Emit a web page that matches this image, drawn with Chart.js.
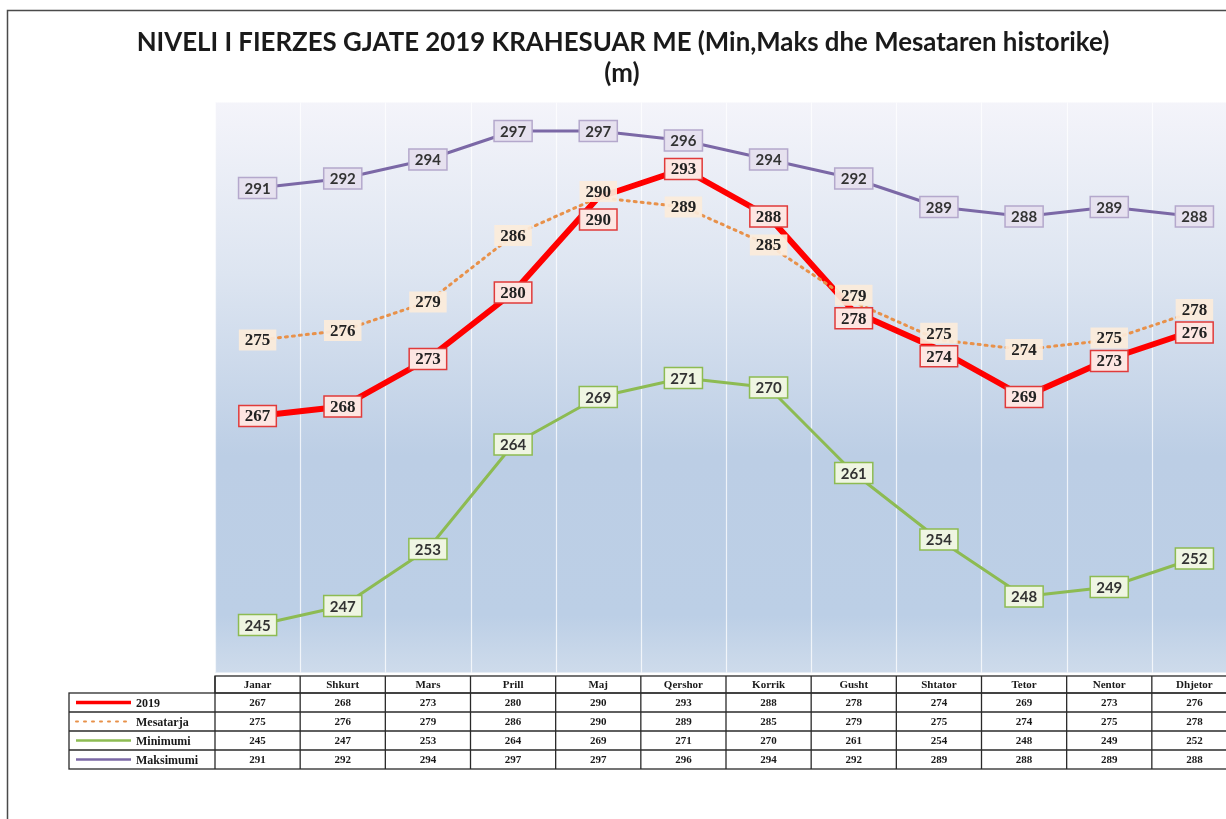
<!DOCTYPE html>
<html>
<head>
<meta charset="utf-8">
<script src="https://cdn.jsdelivr.net/npm/chart.js@4.4.1/dist/chart.umd.min.js"></script>
<style>
  html, body { margin: 0; padding: 0; background: #ffffff; overflow: hidden; }
  #wrap { width: 1250px; height: 819px; position: relative; }
</style>
</head>
<body>
<div id="wrap"><canvas id="c" width="1250" height="819"></canvas></div>
<script>
// ---- data ----
const months = ["Janar","Shkurt","Mars","Prill","Maj","Qershor","Korrik","Gusht","Shtator","Tetor","Nentor","Dhjetor"];
const level2019 = [267,268,273,280,290,293,288,278,274,269,273,276];
const mesatarja = [275,276,279,286,290,289,285,279,275,274,275,278];
const minimumi  = [245,247,253,264,269,271,270,261,254,248,249,252];
const maksimumi = [291,292,294,297,297,296,294,292,289,288,289,288];
const seriesNames = ["2019","Mesatarja","Minimumi","Maksimumi"];
const titleLine1 = "NIVELI I FIERZES GJATE 2019 KRAHESUAR ME (Min,Maks dhe Mesataren historike)";
const titleLine2 = "(m)";

// ---- styles ----
const styles = [
  { line: "#ff0000", width: 6, dash: [], fill: "#fde6e2", border: "#e03a3a", font: "bold 17px 'Liberation Serif'", text: "#222" },
  { line: "#e8914a", width: 3, dash: [2,5], fill: "rgba(252,236,218,0.92)", border: null, font: "bold 17px 'Liberation Serif'", text: "#222" },
  { line: "#8dbb52", width: 3, dash: [], fill: "#eff5e2", border: "#8dbb52", font: "bold 15px Lato", text: "#333" },
  { line: "#7b68a6", width: 3, dash: [], fill: "#e6e1ef", border: "#b4a8cc", font: "bold 15px Lato", text: "#333" }
];
const allSeries = [level2019, mesatarja, minimumi, maksimumi];

const bgPlugin = {
  id: "bg",
  beforeDraw(chart) {
    const ctx = chart.ctx, a = chart.chartArea;
    ctx.save();
    ctx.fillStyle = "#ffffff";
    ctx.fillRect(0, 0, chart.width, chart.height);
    // frame
    ctx.strokeStyle = "#4a4a4a";
    ctx.lineWidth = 1.5;
    ctx.beginPath();
    ctx.moveTo(7.5, chart.height + 2);
    ctx.lineTo(7.5, 10.5);
    ctx.lineTo(chart.width + 2, 10.5);
    ctx.stroke();
    // plot gradient
    const g = ctx.createLinearGradient(0, a.top, 0, a.bottom);
    g.addColorStop(0, "#f4f4fa");
    g.addColorStop(0.3, "#dde5f1");
    g.addColorStop(0.62, "#bccee5");
    g.addColorStop(0.9, "#bccfe6");
    g.addColorStop(1, "#cedbeb");
    ctx.fillStyle = g;
    ctx.fillRect(a.left, a.top, a.right - a.left, a.bottom - a.top);
    // vertical grid lines between categories
    const xs = chart.scales.x;
    const half = (xs.getPixelForValue(1) - xs.getPixelForValue(0)) / 2;
    ctx.strokeStyle = "rgba(255,255,255,0.75)";
    ctx.lineWidth = 1.2;
    for (let i = 0; i <= months.length; i++) {
      const x = Math.round(xs.getPixelForValue(i) - half) + 0.5;
      ctx.beginPath();
      ctx.moveTo(x, a.top);
      ctx.lineTo(x, a.bottom);
      ctx.stroke();
    }
    // title
    ctx.fillStyle = "#1a1a1a";
    ctx.textAlign = "center";
    ctx.textBaseline = "alphabetic";
    let size = 20;
    ctx.font = "bold " + size + "px Lato";
    const w = ctx.measureText(titleLine1).width;
    size = size * 973 / w;
    ctx.font = "bold " + size.toFixed(2) + "px Lato";
    ctx.fillText(titleLine1, 623, 51);
    ctx.fillText(titleLine2, 622, 82);
    ctx.restore();
  }
};

function roundBox(ctx, cx, cy, w, h, fill, border) {
  ctx.fillStyle = fill;
  ctx.fillRect(cx - w / 2, cy - h / 2, w, h);
  if (border) {
    ctx.strokeStyle = border;
    ctx.lineWidth = 1.5;
    ctx.strokeRect(cx - w / 2, cy - h / 2, w, h);
  }
}

const labelPlugin = {
  id: "labels",
  afterDatasetsDraw(chart) {
    const ctx = chart.ctx;
    ctx.save();
    ctx.textAlign = "center";
    ctx.textBaseline = "middle";
    const metas = allSeries.map((_, d) => chart.getDatasetMeta(d));
    for (let i = 0; i < months.length; i++) {
      const pos = metas.map(m => ({ x: m.data[i].x, y: m.data[i].y }));
      // separate 2019 and Mesatarja labels when they collide
      const a = pos[0], b = pos[1];
      if (Math.abs(a.y - b.y) < 23) {
        const mid = (a.y + b.y) / 2;
        if (mesatarja[i] > level2019[i]) { b.y = mid - 11.5; a.y = mid + 11.5; }
        else if (mesatarja[i] === level2019[i]) { b.y = mid - 6; a.y = mid + 22; }
        else { a.y = mid - 11.5; b.y = mid + 11.5; }
      }
      [3, 2, 1, 0].forEach(d => {
        const st = styles[d];
        const p = pos[d];
        const txt = String(allSeries[d][i]);
        ctx.font = st.font;
        const tw = ctx.measureText(txt).width;
        roundBox(ctx, p.x, p.y, tw + 12, 21, st.fill, st.border);
        ctx.fillStyle = st.text;
        ctx.fillText(txt, p.x, p.y + 1);
      });
    }
    ctx.restore();
  }
};

const tablePlugin = {
  id: "table",
  afterDraw(chart) {
    const ctx = chart.ctx;
    const xs = chart.scales.x;
    const half = (xs.getPixelForValue(1) - xs.getPixelForValue(0)) / 2;
    const left0 = 69, colL = xs.getPixelForValue(0) - half, colR = xs.getPixelForValue(months.length - 1) + half;
    const top = 676, headH = 17, rowH = 19;
    ctx.save();
    ctx.fillStyle = "#ffffff";
    ctx.fillRect(colL, top, colR - colL, headH + rowH * 4);
    ctx.fillRect(left0, top + headH, colL - left0, rowH * 4);
    ctx.strokeStyle = "#2a2a2a";
    ctx.lineWidth = 1.3;
    ctx.strokeRect(colL, top, colR - colL, headH);
    ctx.strokeRect(left0, top + headH, colR - left0, rowH * 4);
    for (let r = 1; r < 4; r++) {
      const y = top + headH + r * rowH;
      ctx.beginPath(); ctx.moveTo(left0, y); ctx.lineTo(colR, y); ctx.stroke();
    }
    for (let i = 0; i <= months.length; i++) {
      const x = xs.getPixelForValue(i) - half;
      ctx.beginPath(); ctx.moveTo(x, top); ctx.lineTo(x, top + headH + rowH * 4); ctx.stroke();
    }
    ctx.fillStyle = "#1a1a1a";
    ctx.textAlign = "center";
    ctx.textBaseline = "middle";
    ctx.font = "bold 11px 'Liberation Serif'";
    months.forEach((m, i) => ctx.fillText(m, xs.getPixelForValue(i), top + headH / 2 + 1));
    allSeries.forEach((arr, r) => {
      const cy = top + headH + r * rowH + rowH / 2 + 1;
      arr.forEach((v, i) => ctx.fillText(String(v), xs.getPixelForValue(i), cy));
    });
    ctx.textAlign = "left";
    seriesNames.forEach((n, r) => {
      const cy = top + headH + r * rowH + rowH / 2;
      const st = styles[r];
      ctx.save();
      ctx.strokeStyle = st.line;
      ctx.lineWidth = r === 0 ? 3.5 : (r === 1 ? 2 : 2.5);
      ctx.setLineDash(r === 1 ? [2, 6] : []);
      ctx.lineCap = r === 1 ? "round" : "butt";
      ctx.beginPath(); ctx.moveTo(76, cy); ctx.lineTo(r === 1 ? 128 : 131, cy); ctx.stroke();
      ctx.restore();
      ctx.fillStyle = "#1a1a1a";
      ctx.font = "bold 12px 'Liberation Serif'";
      ctx.fillText(n, 136, cy + 1);
    });
    ctx.restore();
  }
};

new Chart(document.getElementById("c"), {
  type: "line",
  data: {
    labels: months,
    datasets: allSeries.map((arr, d) => ({
      label: seriesNames[d],
      data: arr,
      borderColor: styles[d].line,
      borderWidth: styles[d].width,
      borderDash: styles[d].dash,
      borderCapStyle: d === 1 ? "round" : "butt",
      borderJoinStyle: "round",
      pointRadius: 0,
      tension: 0,
      fill: false,
      order: 3 - d
    }))
  },
  options: {
    responsive: false,
    animation: false,
    layout: { padding: { left: 215, right: 13, top: 102.5, bottom: 146.5 } },
    scales: {
      x: { type: "category", offset: true, display: false },
      y: { min: 240, max: 300, display: false }
    },
    plugins: { legend: { display: false }, title: { display: false }, tooltip: { enabled: false } }
  },
  plugins: [bgPlugin, labelPlugin, tablePlugin]
});
</script>
</body>
</html>
